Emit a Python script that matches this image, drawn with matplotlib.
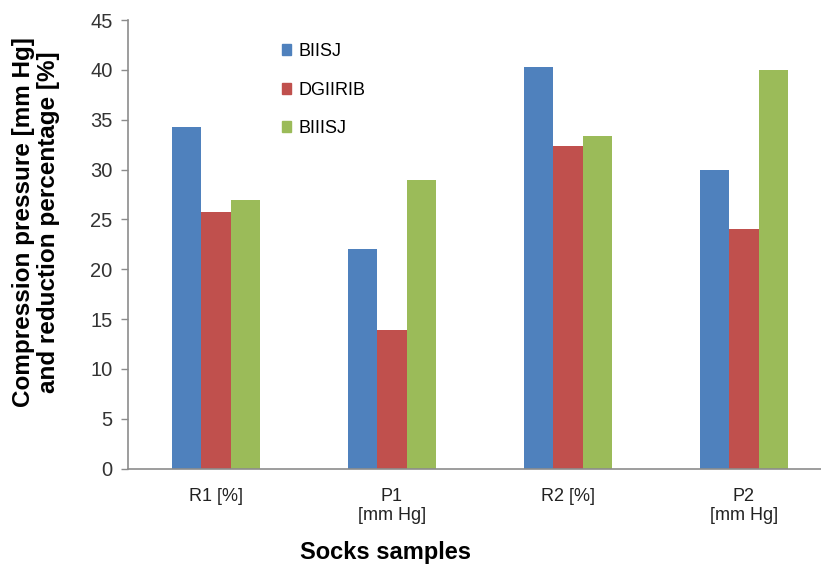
import numpy as np
import matplotlib.pyplot as plt
from matplotlib.patches import Patch

plt.rcParams['font.family'] = ['Liberation Sans', 'DejaVu Sans']

categories = ['R1 [%]', 'P1\n[mm Hg]', 'R2 [%]', 'P2\n[mm Hg]']
series_names = ['BIISJ', 'DGIIRIB', 'BIIISJ']
biisj = [34.3, 22.0, 40.3, 30.0]
dgiirib = [25.7, 13.9, 32.4, 24.0]
biiisj = [26.9, 29.0, 33.4, 40.0]
colors = ['#4F81BD', '#C0504D', '#9BBB59']

W, H = 821, 568
fig = plt.figure(figsize=(W / 100, H / 100), dpi=100)
ax = fig.add_axes([128 / W, (H - 468.7) / H, 704 / W, (468.7 - 20) / H])

x = np.arange(len(categories))
bw = 0.168
for i, vals in enumerate([biisj, dgiirib, biiisj]):
    ax.bar(x + (i - 1) * bw, vals, width=bw, color=colors[i], label=series_names[i])

ax.set_xlim(-0.5, 3.5)
ax.set_ylim(0, 45)
ax.set_yticks(range(0, 46, 5))
ax.set_xticks(x)
ax.set_xticklabels(categories, fontsize=13, color='#222222', linespacing=1.15, va='top')
ax.tick_params(axis='x', length=0, pad=14)
ax.tick_params(axis='y', direction='out', length=5, width=1, color='#8c8c8c',
               labelsize=14.5, labelcolor='#333333', pad=6)

for s in ['top', 'right']:
    ax.spines[s].set_visible(False)
for s in ['left', 'bottom']:
    ax.spines[s].set_color('#8c8c8c')
    ax.spines[s].set_linewidth(1.2)

handles = [Patch(color=c) for c in colors]
ax.legend(handles, series_names, loc='upper left', bbox_to_anchor=(0.195, 0.985),
          frameon=False, fontsize=13, handlelength=0.55, handleheight=0.55,
          handletextpad=0.4, labelspacing=1.2)

fig.text(36 / W, 1 - 222 / H, 'Compression pressure [mm Hg]\nand reduction percentage [%]',
         rotation=90, ha='center', va='center', fontsize=17.5, fontweight='bold',
         linespacing=1.15)
fig.text(385 / W, 1 - 552 / H, 'Socks samples', ha='center', va='center',
         fontsize=17, fontweight='bold')

fig.savefig('out.png', dpi=100)
